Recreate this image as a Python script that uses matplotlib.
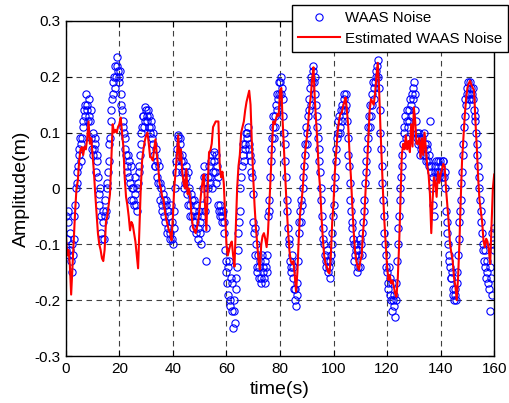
import numpy as np
import matplotlib
matplotlib.use("Agg")
import matplotlib.pyplot as plt

plt.rcParams['font.family'] = ['Liberation Sans', 'DejaVu Sans']

# sample spacing 0.5 s, 0 .. 160 s
dt = 0.5

# WAAS noise (blue circles), 20 samples per row = 10 s
waas = [
    -0.05, -0.09, -0.04, -0.11, -0.13, -0.15, -0.09, -0.03, 0.01, 0.04, 0.07, 0.05, 0.09, 0.12, 0.15, 0.17, 0.14, 0.16, 0.12, 0.14,
    0.10, 0.07, 0.08, 0.05, 0.02, -0.01, -0.05, -0.09, -0.06, -0.02, -0.04, 0.01, 0.05, 0.09, 0.14, 0.17, 0.20, 0.22, 0.235, 0.21,
    0.20, 0.17, 0.14, 0.12, 0.09, 0.06, 0.03, 0.05, 0.01, -0.02, 0.00, -0.03, -0.01, -0.04, 0.01, 0.04, 0.08, 0.11, 0.13, 0.145,
    0.14, 0.12, 0.13, 0.10, 0.11, 0.08, 0.06, 0.04, 0.05, 0.01, -0.02, 0.00, -0.04, -0.02, -0.06, -0.03, -0.07, -0.05, -0.08, -0.06,
    -0.10, -0.04, 0.03, 0.07, 0.095, 0.08, 0.05, 0.06, 0.03, 0.01, 0.02, -0.03, 0.00, -0.05, -0.02, -0.07, -0.04, -0.08, -0.05, -0.09,
    -0.06, -0.10, -0.03, 0.02, -0.04, -0.13, 0.00, 0.04, 0.02, 0.06, 0.03, 0.065, 0.01, 0.04, -0.03, -0.05, -0.04, -0.05, -0.06, -0.11,
    -0.15, -0.19, -0.13, -0.21, -0.17, -0.25, -0.22, -0.18, -0.14, -0.08, -0.04, 0.02, 0.06, 0.05, 0.08, 0.10, 0.11, 0.08, 0.05, 0.02,
    -0.01, -0.07, -0.10, -0.14, -0.16, -0.13, -0.17, -0.14, -0.16, -0.13, -0.15, -0.05, -0.02, 0.05, 0.09, 0.13, 0.11, 0.15, 0.14, 0.17,
    0.19, 0.20, 0.16, 0.10, 0.05, -0.02, -0.07, -0.10, -0.14, -0.12, -0.16, -0.18, -0.21, -0.19, -0.08, -0.04, -0.06, 0.00, 0.04, 0.08,
    0.10, 0.13, 0.16, 0.15, 0.19, 0.22, 0.20, 0.15, 0.11, 0.07, 0.03, -0.02, -0.07, -0.10, -0.13, -0.11, -0.15, -0.16, -0.12, -0.08,
    -0.03, 0.02, 0.07, 0.10, 0.13, 0.11, 0.15, 0.14, 0.17, 0.15, 0.12, 0.06, 0.01, -0.04, -0.07, -0.10, -0.12, -0.10, -0.14, -0.12,
    -0.09, -0.12, -0.06, -0.02, 0.03, 0.07, 0.11, 0.15, 0.13, 0.17, 0.16, 0.19, 0.21, 0.23, 0.18, 0.10, 0.04, -0.02, -0.08, -0.12,
    -0.15, -0.18, -0.16, -0.20, -0.22, -0.19, -0.23, -0.17, -0.10, -0.05, 0.00, 0.04, 0.08, 0.11, 0.09, 0.14, 0.12, 0.16, 0.15, 0.18,
    0.19, 0.14, 0.10, 0.08, 0.09, 0.07, 0.09, 0.06, 0.08, 0.05, 0.07, 0.04, 0.12, 0.03, -0.03, -0.05, 0.04, 0.02, 0.05, 0.03,
    0.04, 0.02, 0.05, 0.03, -0.04, -0.08, -0.12, -0.14, -0.16, -0.18, -0.20, -0.19, -0.17, -0.12, -0.06, -0.02, 0.03, 0.08, 0.13, 0.15,
    0.18, 0.17, 0.19, 0.16, 0.18, 0.14, 0.12, 0.08, 0.04, 0.00, -0.04, -0.08, -0.11, -0.14, -0.16, -0.13, -0.18, -0.22, -0.19, -0.10,
    -0.07,
]

# second WAAS sample in each 0.5 s slot (at +0.25 s), the other side of the band
waas_mid = [
    -0.11, -0.06, -0.12, -0.08, -0.10, -0.12, -0.05, 0.00, 0.03, 0.06, 0.09, 0.08, 0.11, 0.14, 0.13, 0.15, 0.12, 0.13, 0.09, 0.07,
    0.06, 0.09, 0.03, 0.06, -0.03, 0.00, -0.08, -0.04, -0.09, -0.05, 0.00, 0.03, 0.08, 0.12, 0.16, 0.19, 0.18, 0.20, 0.22, 0.19,
    0.21, 0.15, 0.11, 0.10, 0.07, 0.04, 0.06, 0.02, 0.04, 0.00, -0.02, 0.02, -0.03, 0.00, 0.03, 0.06, 0.10, 0.13, 0.11, 0.12,
    0.13, 0.14, 0.11, 0.12, 0.09, 0.10, 0.04, 0.07, 0.02, 0.04, 0.01, -0.03, -0.01, -0.05, -0.02, -0.08, -0.04, -0.09, -0.03, -0.09,
    -0.07, 0.00, 0.05, 0.09, 0.06, 0.09, 0.03, 0.05, 0.00, 0.04, -0.01, 0.03, -0.03, -0.01, -0.05, -0.02, -0.06, -0.03, -0.07, -0.04,
    -0.08, -0.05, 0.00, 0.04, -0.07, -0.02, 0.02, 0.01, 0.05, 0.00, 0.05, 0.03, 0.06, 0.02, -0.04, -0.03, -0.06, -0.04, -0.08, -0.13,
    -0.17, -0.14, -0.20, -0.16, -0.22, -0.20, -0.24, -0.16, -0.11, -0.06, 0.00, 0.04, 0.08, 0.07, 0.10, 0.09, 0.07, 0.06, 0.03, -0.06,
    -0.08, -0.12, -0.15, -0.12, -0.14, -0.16, -0.12, -0.15, -0.17, -0.14, -0.12, -0.04, 0.02, 0.07, 0.11, 0.09, 0.13, 0.17, 0.16, 0.19,
    0.17, 0.18, 0.13, 0.08, 0.02, -0.04, -0.09, -0.13, -0.15, -0.14, -0.18, -0.20, -0.17, -0.13, -0.06, -0.02, -0.03, 0.02, 0.06, 0.11,
    0.08, 0.14, 0.18, 0.20, 0.21, 0.19, 0.17, 0.13, 0.09, 0.05, 0.00, -0.05, -0.09, -0.12, -0.14, -0.13, -0.14, -0.13, -0.10, -0.05,
    0.00, 0.05, 0.09, 0.12, 0.10, 0.14, 0.12, 0.16, 0.14, 0.17, 0.09, 0.04, -0.02, -0.06, -0.09, -0.13, -0.11, -0.15, -0.11, -0.14,
    -0.10, -0.08, -0.04, 0.01, 0.05, 0.09, 0.13, 0.11, 0.15, 0.19, 0.18, 0.20, 0.22, 0.20, 0.14, 0.07, 0.01, -0.05, -0.10, -0.14,
    -0.17, -0.14, -0.19, -0.17, -0.20, -0.21, -0.20, -0.13, -0.07, -0.02, 0.02, 0.06, 0.10, 0.13, 0.12, 0.11, 0.14, 0.13, 0.17, 0.16,
    0.17, 0.12, 0.09, 0.10, 0.06, 0.08, 0.07, 0.10, 0.06, 0.08, 0.05, 0.06, 0.04, 0.00, 0.02, 0.03, 0.05, 0.03, 0.02, 0.05,
    0.03, 0.05, 0.02, 0.00, -0.06, -0.10, -0.13, -0.16, -0.15, -0.19, -0.18, -0.20, -0.15, -0.09, -0.04, 0.01, 0.06, 0.11, 0.16, 0.17,
    0.19, 0.16, 0.18, 0.17, 0.16, 0.13, 0.10, 0.06, 0.02, -0.02, -0.06, -0.10, -0.13, -0.11, -0.15, -0.17, -0.14, -0.16, -0.08, -0.11,
]

# estimated WAAS noise (red line), 0.5 s spacing
est = [
    -0.08, -0.12, -0.11, -0.135, -0.19, -0.14, -0.09, -0.04, 0.00, 0.014, 0.05, 0.07, 0.074, 0.06, 0.075, 0.07, 0.09, 0.12, 0.08, 0.09,
    0.06, 0.03, -0.01, -0.045, -0.08, -0.10, -0.11, -0.125, -0.13, -0.11, -0.06, -0.05, -0.03, -0.01, 0.05, 0.115, 0.10, 0.105, 0.10, 0.11,
    0.115, 0.127, 0.10, 0.075, 0.02, -0.015, -0.03, -0.05, -0.075, -0.06, -0.065, -0.08, -0.095, -0.12, -0.143, -0.07, 0.00, 0.05, 0.07, 0.085,
    0.095, 0.10, 0.08, 0.056, 0.055, 0.05, 0.07, 0.088, 0.06, 0.04, 0.01, 0.00, -0.015, -0.02, -0.04, -0.055, -0.065, -0.075, -0.08, -0.093,
    -0.05, 0.00, 0.03, 0.06, 0.095, 0.05, 0.07, 0.03, 0.01, 0.00, 0.035, -0.01, 0.00, -0.02, -0.05, -0.07, -0.075, -0.08, -0.07, -0.057,
    -0.035, -0.01, 0.01, 0.025, -0.03, -0.075, 0.00, 0.065, 0.068, 0.08, 0.11, 0.115, 0.12, 0.12, 0.12, 0.04, 0.02, 0.03, 0.01, -0.045,
    -0.10, -0.12, -0.11, -0.10, -0.095, -0.12, -0.14, -0.07, 0.00, 0.04, 0.06, 0.10, 0.11, 0.12, 0.14, 0.155, 0.165, 0.175, 0.15, 0.08,
    0.02, -0.03, -0.07, -0.10, -0.13, -0.145, -0.10, -0.085, -0.08, -0.09, -0.105, -0.08, -0.03, 0.02, 0.075, 0.12, 0.115, 0.125, 0.133, 0.13,
    0.175, 0.18, 0.12, 0.07, 0.02, -0.033, -0.075, -0.11, -0.13, -0.135, -0.13, -0.155, -0.185, -0.15, -0.09, -0.045, -0.025, 0.00, 0.04, 0.07,
    0.09, 0.115, 0.145, 0.165, 0.195, 0.217, 0.16, 0.12, 0.08, 0.03, 0.00, -0.05, -0.09, -0.12, -0.135, -0.14, -0.15, -0.152, -0.12, -0.06,
    -0.025, 0.03, 0.065, 0.10, 0.12, 0.133, 0.135, 0.145, 0.155, 0.163, 0.14, 0.11, 0.06, 0.02, -0.03, -0.075, -0.11, -0.13, -0.14, -0.146,
    -0.13, -0.12, -0.08, -0.05, 0.00, 0.04, 0.09, 0.14, 0.16, 0.155, 0.15, 0.17, 0.20, 0.225, 0.18, 0.11, 0.05, -0.01, -0.06, -0.10,
    -0.14, -0.164, -0.155, -0.17, -0.165, -0.175, -0.188, -0.194, -0.16, -0.10, -0.02, 0.06, 0.08, 0.07, 0.095, 0.07, 0.085, 0.065, 0.115, 0.075,
    0.145, 0.12, 0.08, 0.08, 0.09, 0.055, 0.09, 0.06, 0.10, 0.07, 0.04, 0.025, -0.01, -0.08, -0.02, 0.02, 0.01, -0.015, 0.03, 0.01,
    0.025, 0.035, 0.044, 0.038, 0.00, -0.03, -0.06, -0.10, -0.115, -0.13, -0.16, -0.175, -0.20, -0.16, -0.10, -0.02, 0.05, 0.09, 0.13, 0.16,
    0.18, 0.188, 0.193, 0.185, 0.18, 0.175, 0.12, 0.074, 0.02, -0.02, -0.04, -0.06, -0.093, -0.105, -0.09, -0.095, -0.11, -0.135, -0.07, 0.00,
    0.025,
]

t_est = np.arange(len(est)) * dt
# interleave the two blue samples per slot -> 0.25 s spacing
waas_all = np.empty(len(waas) + len(waas_mid))
waas_all[0::2] = waas
waas_all[1::2] = waas_mid
t_waas = np.arange(len(waas_all)) * dt / 2

xticks = [0, 20, 40, 60, 80, 100, 120, 140, 160]
yticks = [-0.3, -0.2, -0.1, 0, 0.1, 0.2, 0.3]
ylabels = ['-0.3', '-0.2', '-0.1', '0', '0.1', '0.2', '0.3']

fig = plt.figure(figsize=(5.1, 4.03), dpi=100)
ax = fig.add_axes([0.129, 0.1166, 0.84, 0.8315])

ax.plot(t_waas, waas_all, 'o', mfc='none', mec='blue', ms=5.2, mew=0.8, label='WAAS Noise')
ax.plot(t_est, est, '-', color='red', lw=1.5, label='Estimated WAAS Noise')

ax.set_xlim(0, 160)
ax.set_ylim(-0.3, 0.3)
ax.set_xticks(xticks)
ax.set_yticks(yticks)
ax.set_yticklabels(ylabels)
ax.tick_params(direction='in', length=4, labelsize=11, top=True, right=True, pad=4)
ax.grid(True, color='0.25', linestyle=(0, (5, 4)), linewidth=0.8)
for s in ax.spines.values():
    s.set_linewidth(1.0)

ax.set_xlabel('time(s)', fontsize=14, labelpad=4)
ax.set_ylabel('Amplitude(m)', fontsize=14, labelpad=3)

leg = ax.legend(loc='upper right', bbox_to_anchor=(0.996, 0.988), bbox_transform=fig.transFigure,
                fancybox=False, framealpha=1, edgecolor='black', fontsize=10.8,
                handlelength=2.8, borderpad=0.4, labelspacing=0.45, handletextpad=0.3, borderaxespad=0)
leg.get_frame().set_linewidth(1.0)

fig.savefig('out.png', dpi=100)
